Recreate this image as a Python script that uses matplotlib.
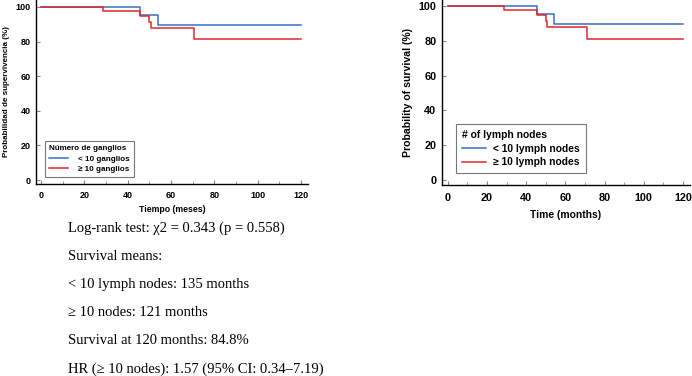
import numpy as np
import matplotlib.pyplot as plt
from matplotlib.ticker import MultipleLocator

# Kaplan-Meier steps
t_lt10 = [0, 45.5, 54, 120]
s_lt10 = [100, 95.2, 89.4, 89.4]
t_ge10 = [0, 28.7, 45.5, 50, 50.6, 70.8, 120]
s_ge10 = [100, 97.5, 94.8, 91.2, 87.9, 81.2, 81.2]

x_ticks = [0, 20, 40, 60, 80, 100, 120]
y_ticks = [0, 20, 40, 60, 80, 100]

notes = ['Log-rank test: χ2 = 0.343 (p = 0.558)',
         'Survival means:',
         '< 10 lymph nodes: 135 months',
         '≥ 10 nodes: 121 months',
         'Survival at 120 months: 84.8%',
         'HR (≥ 10 nodes): 1.57 (95% CI: 0.34–7.19)']

BLUE = '#3470c4'
RED = '#e2262c'
W, H = 692, 376

plt.rcParams['font.family'] = ['Liberation Sans', 'DejaVu Sans']
fig = plt.figure(figsize=(W / 100, H / 100), dpi=100)


def px_axes(x0, x1, y_top, y_bot):
    return fig.add_axes([x0 / W, 1 - y_bot / H, (x1 - x0) / W, (y_bot - y_top) / H])


def km_panel(ax, xlim, ylim, labels, title, xlabel, ylabel, fs_tick, fs_xlab, fs_ylab,
             fs_leg, leg_anchor, tick_pad, xlab_pad, text_pad, bpad):
    ax.step(t_lt10, s_lt10, where='post', color=BLUE, lw=1.1, label=labels[0])
    ax.step(t_ge10, s_ge10, where='post', color=RED, lw=1.1, label=labels[1])
    ax.set_xlim(*xlim)
    ax.set_ylim(*ylim)
    ax.set_xticks(x_ticks)
    ax.set_yticks(y_ticks)
    ax.xaxis.set_minor_locator(MultipleLocator(10))
    for s in ['top', 'right']:
        ax.spines[s].set_visible(False)
    for s in ['left', 'bottom']:
        ax.spines[s].set_linewidth(1.0)
    ax.tick_params(direction='in', length=3, width=0.8, color='#888888',
                   labelsize=fs_tick, pad=4)
    ax.tick_params(axis='x', pad=tick_pad)
    ax.tick_params(which='minor', direction='in', length=2, width=0.6, color='#888888')
    for lab in ax.get_xticklabels() + ax.get_yticklabels():
        lab.set_fontweight('bold')
    ax.set_xlabel(xlabel, fontsize=fs_xlab, fontweight='bold', labelpad=xlab_pad)
    ax.set_ylabel(ylabel, fontsize=fs_ylab, fontweight='bold')
    leg = ax.legend(title=title, loc='lower left', bbox_to_anchor=leg_anchor,
                    fancybox=False, edgecolor='#777777', framealpha=1,
                    prop={'weight': 'bold', 'size': fs_leg},
                    title_fontproperties={'weight': 'bold', 'size': fs_leg},
                    handlelength=2.4, handletextpad=text_pad, borderpad=bpad,
                    labelspacing=0.35, borderaxespad=0)
    leg._legend_box.align = 'left'
    leg.get_frame().set_linewidth(0.8)
    return ax


ax1 = px_axes(36, 308, 0, 184)
km_panel(ax1, (-2.3, 123.2), (-2.3, 104), ['< 10 ganglios', '≥ 10 ganglios'],
         'Número de ganglios', 'Tiempo (meses)', 'Probabilidad de supervivencia (%)',
         6.5, 6.3, 5.8, 5.8, (0.033, 0.04), 5, 4, 1.3, 0.45)

ax2 = px_axes(442, 690, 0, 185)
km_panel(ax2, (-3.0, 123.6), (-2.9, 103.4), ['< 10 lymph nodes', '≥ 10 lymph nodes'],
         '# of lymph nodes', 'Time (months)', 'Probability of survival (%)',
         7.8, 7.4, 7.6, 7.4, (0.056, 0.065), 6, 5, 0.7, 0.55)

for i, line in enumerate(notes):
    fig.text(68 / W, 1 - (228 + 28.2 * i) / H, line, family='Liberation Serif',
             fontsize=10.5, va='center', ha='left')

fig.savefig('out.png', dpi=100)
